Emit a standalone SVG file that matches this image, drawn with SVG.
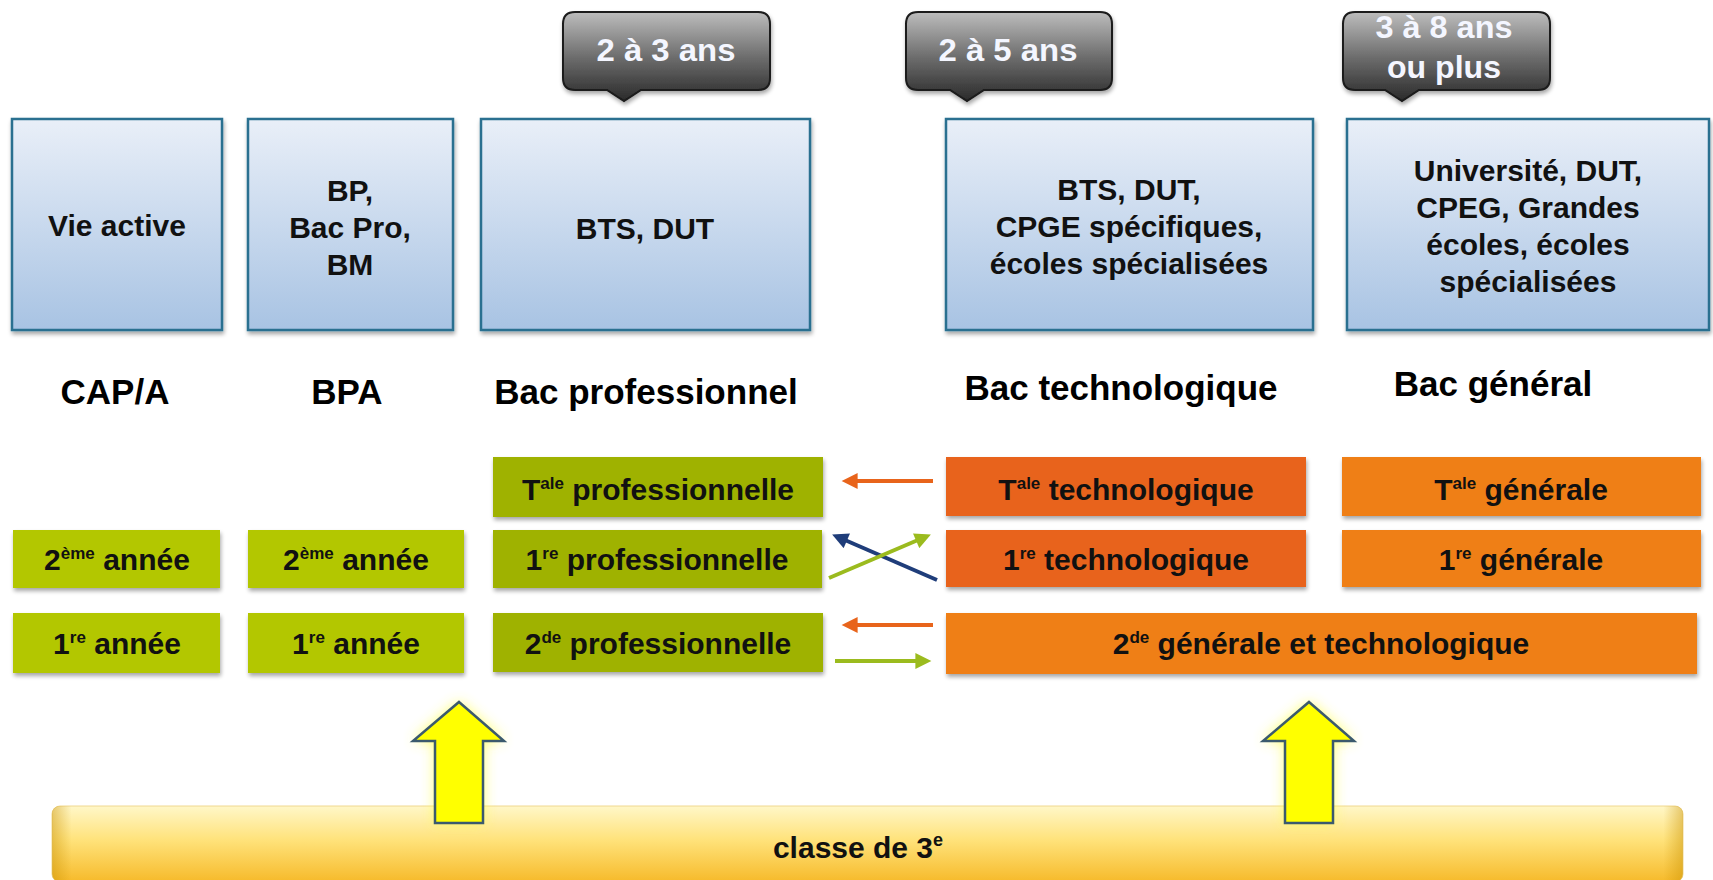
<svg xmlns="http://www.w3.org/2000/svg" width="1713" height="880" viewBox="0 0 1713 880">
<style>
text{font-family:"Liberation Sans",Arial,sans-serif;font-weight:bold;fill:#111;text-anchor:middle}
.box{fill:url(#blueGrad);stroke:#2b6f90;stroke-width:2.5;filter:url(#shadow)}
.gl{fill:#b3c700;filter:url(#shadow)}
.gp{fill:#9fb200;filter:url(#shadow)}
.ot{fill:#e8641b;filter:url(#shadow)}
.og{fill:#ef7f12;filter:url(#shadow)}
.bt{font-size:30px}
.hd{font-size:35px;fill:#000}
.co{fill:url(#calloutGrad);stroke:#1a1a1a;stroke-width:2;filter:url(#shadow)}
.ct{font-size:31px;fill:#f4f6ff}
.ln{fill:none;stroke-width:4}
.yarrow{fill:#ffff00;stroke:#3b5a6e;stroke-width:2.5;stroke-linejoin:miter}
</style>
<defs>
<linearGradient id="blueGrad" x1="0" y1="0" x2="0" y2="1">
<stop offset="0" stop-color="#e9eff8"/>
<stop offset="1" stop-color="#a8c3e3"/>
</linearGradient>
<linearGradient id="calloutGrad" x1="0" y1="0" x2="0" y2="1">
<stop offset="0" stop-color="#bdbdbd"/>
<stop offset="0.5" stop-color="#6e6e6e"/>
<stop offset="1" stop-color="#2a2a2a"/>
</linearGradient>
<linearGradient id="barGrad" x1="0" y1="0" x2="0" y2="1">
<stop offset="0" stop-color="#fff7c8"/>
<stop offset="0.45" stop-color="#ffe27a"/>
<stop offset="1" stop-color="#f6ba2a"/>
</linearGradient>
<linearGradient id="barEdge" x1="0" y1="0" x2="1" y2="0">
<stop offset="0" stop-color="#c89000" stop-opacity="0.45"/>
<stop offset="0.012" stop-color="#c89000" stop-opacity="0"/>
<stop offset="0.988" stop-color="#c89000" stop-opacity="0"/>
<stop offset="1" stop-color="#c89000" stop-opacity="0.45"/>
</linearGradient>
<filter id="shadow" x="-10%" y="-10%" width="125%" height="135%">
<feGaussianBlur in="SourceAlpha" stdDeviation="2"/>
<feOffset dx="1" dy="3" result="b"/>
<feComponentTransfer><feFuncA type="linear" slope="0.35"/></feComponentTransfer>
<feMerge><feMergeNode/><feMergeNode in="SourceGraphic"/></feMerge>
</filter>
<filter id="glow" x="-50%" y="-30%" width="200%" height="160%">
<feGaussianBlur stdDeviation="7"/>
</filter>
<marker id="mOrange" viewBox="0 0 10 10" refX="6" refY="5" markerWidth="4.4" markerHeight="4" orient="auto">
<path d="M0,0 L10,5 L0,10 z" fill="#e8641b"/>
</marker>
<marker id="mGreen" viewBox="0 0 10 10" refX="6" refY="5" markerWidth="4.4" markerHeight="4" orient="auto">
<path d="M0,0 L10,5 L0,10 z" fill="#9bbb1e"/>
</marker>
<marker id="mBlue" viewBox="0 0 10 10" refX="6" refY="5" markerWidth="4.4" markerHeight="4" orient="auto">
<path d="M0,0 L10,5 L0,10 z" fill="#1f3d7a"/>
</marker>
</defs>
<rect width="1713" height="880" fill="#fff"/>

<!-- callouts -->
<g id="callout-2-3">
<path class="co" d="M575,12 H758 Q770,12 770,24 V78 Q770,90 758,90 H641 L624,101 L607,90 H575 Q563,90 563,78 V24 Q563,12 575,12 Z"/>
<text class="ct" x="666" y="61" textLength="139" lengthAdjust="spacingAndGlyphs">2 à 3 ans</text>
</g>
<g id="callout-2-5">
<path class="co" d="M918,12 H1100 Q1112,12 1112,24 V78 Q1112,90 1100,90 H984 L967,101 L950,90 H918 Q906,90 906,78 V24 Q906,12 918,12 Z"/>
<text class="ct" x="1008" y="61" textLength="139" lengthAdjust="spacingAndGlyphs">2 à 5 ans</text>
</g>
<g id="callout-3-8">
<path class="co" d="M1355,12 H1538 Q1550,12 1550,24 V78 Q1550,90 1538,90 H1419 L1402,101 L1385,90 H1355 Q1343,90 1343,78 V24 Q1343,12 1355,12 Z"/>
<text class="ct" x="1444" y="38" textLength="137" lengthAdjust="spacingAndGlyphs">3 à 8 ans</text>
<text class="ct" x="1444" y="78" textLength="114" lengthAdjust="spacingAndGlyphs">ou plus</text>
</g>

<!-- top boxes -->
<g id="vie-active">
<rect class="box" x="12" y="119" width="210" height="211"/>
<text class="bt" x="117" y="236">Vie active</text>
</g>
<g id="bp-bacpro-bm">
<rect class="box" x="248" y="119" width="205" height="211"/>
<text class="bt" x="350" y="201">BP,</text>
<text class="bt" x="350" y="238">Bac Pro,</text>
<text class="bt" x="350" y="275">BM</text>
</g>
<g id="bts-dut-pro">
<rect class="box" x="481" y="119" width="329" height="211"/>
<text class="bt" x="645" y="239">BTS, DUT</text>
</g>
<g id="bts-dut-techno">
<rect class="box" x="946" y="119" width="367" height="211"/>
<text class="bt" x="1129" y="200">BTS, DUT,</text>
<text class="bt" x="1129" y="237">CPGE spécifiques,</text>
<text class="bt" x="1129" y="274">écoles spécialisées</text>
</g>
<g id="universite">
<rect class="box" x="1347" y="119" width="362" height="211"/>
<text class="bt" x="1528" y="181">Université, DUT,</text>
<text class="bt" x="1528" y="218">CPEG, Grandes</text>
<text class="bt" x="1528" y="255">écoles, écoles</text>
<text class="bt" x="1528" y="292">spécialisées</text>
</g>

<!-- headings -->
<g id="headings">
<text class="hd" x="115" y="404">CAP/A</text>
<text class="hd" x="347" y="404">BPA</text>
<text class="hd" x="646" y="404">Bac professionnel</text>
<text class="hd" x="1121" y="400">Bac technologique</text>
<text class="hd" x="1493" y="396">Bac général</text>
</g>

<!-- green boxes -->
<g id="cap-2eme">
<rect class="gl" x="13" y="530" width="207" height="58"/>
<text class="bt" x="117" y="570">2<tspan font-size="17" dy="-11">ème</tspan><tspan dy="11"> année</tspan></text>
</g>
<g id="bpa-2eme">
<rect class="gl" x="248" y="530" width="216" height="58"/>
<text class="bt" x="356" y="570">2<tspan font-size="17" dy="-11">ème</tspan><tspan dy="11"> année</tspan></text>
</g>
<g id="cap-1re">
<rect class="gl" x="13" y="613" width="207" height="60"/>
<text class="bt" x="117" y="654">1<tspan font-size="17" dy="-11">re</tspan><tspan dy="11">  année</tspan></text>
</g>
<g id="bpa-1re">
<rect class="gl" x="248" y="613" width="216" height="60"/>
<text class="bt" x="356" y="654">1<tspan font-size="17" dy="-11">re</tspan><tspan dy="11">  année</tspan></text>
</g>
<g id="tale-pro">
<rect class="gp" x="493" y="457" width="330" height="60"/>
<text class="bt" x="658" y="500">T<tspan font-size="17" dy="-11">ale</tspan><tspan dy="11"> professionnelle</tspan></text>
</g>
<g id="1re-pro">
<rect class="gp" x="493" y="530" width="329" height="58"/>
<text class="bt" x="657" y="570">1<tspan font-size="17" dy="-11">re</tspan><tspan dy="11"> professionnelle</tspan></text>
</g>
<g id="2de-pro">
<rect class="gp" x="493" y="613" width="330" height="59"/>
<text class="bt" x="658" y="654">2<tspan font-size="17" dy="-11">de</tspan><tspan dy="11"> professionnelle</tspan></text>
</g>

<!-- orange boxes -->
<g id="tale-techno">
<rect class="ot" x="946" y="457" width="360" height="59"/>
<text class="bt" x="1126" y="500">T<tspan font-size="17" dy="-11">ale</tspan><tspan dy="11"> technologique</tspan></text>
</g>
<g id="1re-techno">
<rect class="ot" x="946" y="530" width="360" height="57"/>
<text class="bt" x="1126" y="570">1<tspan font-size="17" dy="-11">re</tspan><tspan dy="11"> technologique</tspan></text>
</g>
<g id="tale-generale">
<rect class="og" x="1342" y="457" width="359" height="59"/>
<text class="bt" x="1521" y="500">T<tspan font-size="17" dy="-11">ale</tspan><tspan dy="11"> générale</tspan></text>
</g>
<g id="1re-generale">
<rect class="og" x="1342" y="530" width="359" height="57"/>
<text class="bt" x="1521" y="570">1<tspan font-size="17" dy="-11">re</tspan><tspan dy="11"> générale</tspan></text>
</g>
<g id="2de-gt">
<rect class="og" x="946" y="613" width="751" height="61"/>
<text class="bt" x="1321" y="654">2<tspan font-size="17" dy="-11">de</tspan><tspan dy="11"> générale et technologique</tspan></text>
</g>

<!-- bottom bar -->
<g id="classe-3e">
<rect x="52" y="806" width="1631" height="76" rx="8" fill="url(#barGrad)" stroke="#f0d890" stroke-width="1"/>
<rect x="52" y="806" width="1631" height="76" rx="8" fill="url(#barEdge)"/>
<text x="858" y="858" style="font-size:30px">classe de 3<tspan font-size="18" dy="-12">e</tspan></text>
</g>

<!-- connectors -->
<g id="connectors">
<line class="ln" x1="933" y1="481" x2="848" y2="481" stroke="#e8641b" marker-end="url(#mOrange)"/>
<line class="ln" x1="937" y1="580" x2="838" y2="537" stroke="#1f3d7a" marker-end="url(#mBlue)"/>
<line class="ln" x1="829" y1="578" x2="925" y2="537" stroke="#9bbb1e" marker-end="url(#mGreen)"/>
<line class="ln" x1="933" y1="625" x2="848" y2="625" stroke="#e8641b" marker-end="url(#mOrange)"/>
<line class="ln" x1="835" y1="661" x2="925" y2="661" stroke="#9bbb1e" marker-end="url(#mGreen)"/>
<g id="arrow-left">
<path d="M459,702 L504,741 L483,741 L483,823 L435,823 L435,741 L413,741 Z" fill="#ffff40" filter="url(#glow)" opacity="0.8"/>
<path class="yarrow" d="M459,702 L504,741 L483,741 L483,823 L435,823 L435,741 L413,741 Z"/>
</g>
<g id="arrow-right">
<path d="M1309,702 L1354,741 L1333,741 L1333,823 L1285,823 L1285,741 L1263,741 Z" fill="#ffff40" filter="url(#glow)" opacity="0.8"/>
<path class="yarrow" d="M1309,702 L1354,741 L1333,741 L1333,823 L1285,823 L1285,741 L1263,741 Z"/>
</g>
</g>
</svg>
